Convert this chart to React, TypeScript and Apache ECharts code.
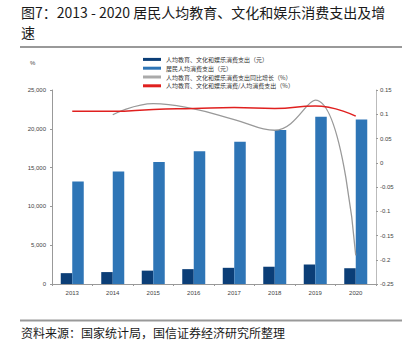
import React, { useEffect, useRef } from "react";
import * as echarts from "echarts";

const years = ["2013", "2014", "2015", "2016", "2017", "2018", "2019", "2020"];
const eduSpend = [1398, 1536, 1723, 1915, 2086, 2226, 2513, 2032];
const totalSpend = [13220, 14491, 15712, 17111, 18322, 19853, 21559, 21210];
const eduGrowth = [null, 0.099, 0.122, 0.111, 0.089, 0.067, 0.129, -0.191];
const eduShare = [0.106, 0.106, 0.11, 0.112, 0.114, 0.112, 0.117, 0.096];

const names = [
  "人均教育、文化和娱乐消费支出（元）",
  "居民人均消费支出（元）",
  "人均教育、文化和娱乐消费支出同比增长（%）",
  "人均教育、文化和娱乐消费/人均消费支出（%）",
];

const titleText = "图7：2013 - 2020 居民人均教育、文化和娱乐消费支出及增\n速";
const sourceText = "资料来源：国家统计局，国信证券经济研究所整理";

const FONT = "'Noto Sans CJK SC', 'Noto Sans', sans-serif";
const AXFONT = "'Liberation Sans', Arial, sans-serif";

export default function App() {
  const ref = useRef<HTMLDivElement>(null);
  useEffect(() => {
    if (!ref.current) return;
    document.body.style.margin = "0";
    const chart = echarts.init(ref.current, undefined, { renderer: "svg" });
    const fmtR = (v: number) => {
      const r = Math.round(v * 100) / 100;
      return String(r);
    };
    chart.setOption({
      animation: false,
      textStyle: { fontFamily: FONT },
      grid: { left: 52, right: 36, top: 90, bottom: 64 },
      legend: {
        orient: "vertical",
        left: 138,
        top: 50,
        itemWidth: 18,
        itemHeight: 3,
        itemGap: 0,
        textStyle: { fontSize: 6, color: "#333", fontFamily: FONT, lineHeight: 8.8 },
        data: [
          { name: names[0], icon: "rect" },
          { name: names[1], icon: "rect" },
          { name: names[2], icon: "rect", itemStyle: { color: "#aaaaaa" } },
          { name: names[3], icon: "rect", itemStyle: { color: "#e0201f" } },
        ],
      },
      xAxis: {
        type: "category",
        data: years,
        boundaryGap: true,
        axisLine: { lineStyle: { color: "#999", width: 1 } },
        axisTick: { show: true, length: 2, lineStyle: { color: "#999" } },
        axisLabel: { fontSize: 6, color: "#444", margin: 6, fontFamily: AXFONT },
      },
      yAxis: [
        {
          type: "value",
          min: 0,
          max: 25000,
          interval: 5000,
          splitLine: { show: false },
          axisLine: { show: true, lineStyle: { color: "#999" } },
          axisTick: { show: true, length: 2, lineStyle: { color: "#999" } },
          axisLabel: {
            fontSize: 6,
            color: "#444",
            margin: 6,
            fontFamily: AXFONT,
            formatter: (v: number) => v.toLocaleString("en-US"),
          },
        },
        {
          type: "value",
          min: -0.25,
          max: 0.15,
          interval: 0.05,
          position: "right",
          splitLine: { show: false },
          axisLine: { show: true, lineStyle: { color: "#bbb" } },
          axisTick: { show: true, length: 2, lineStyle: { color: "#999" } },
          axisLabel: { fontSize: 6, color: "#444", margin: 4, fontFamily: AXFONT, formatter: fmtR },
        },
      ],
      series: [
        {
          name: names[0],
          type: "bar",
          data: eduSpend,
          barWidth: 11.5,
          barGap: "0%",
          itemStyle: { color: "#0b3e77" },
        },
        {
          name: names[1],
          type: "bar",
          data: totalSpend,
          barWidth: 11.5,
          barGap: "0%",
          itemStyle: { color: "#2e75b6" },
        },
        {
          name: names[2],
          type: "line",
          yAxisIndex: 1,
          data: eduGrowth,
          smooth: 0.45,
          symbol: "none",
          lineStyle: { color: "#999999", width: 1.3 },
          itemStyle: { color: "#999999" },
        },
        {
          name: names[3],
          type: "line",
          yAxisIndex: 1,
          data: eduShare,
          smooth: 0.5,
          symbol: "none",
          lineStyle: { color: "#e0201f", width: 1.5 },
          itemStyle: { color: "#e0201f" },
        },
      ],
      graphic: [
        {
          type: "text",
          left: 21,
          top: 2,
          style: { text: titleText, fontSize: 14, lineHeight: 20, fill: "#1a1a1a", fontFamily: FONT },
        },
        {
          type: "line",
          shape: { x1: 20, y1: 47, x2: 402, y2: 47 },
          style: { stroke: "#999", lineWidth: 2 },
        },
        {
          type: "text",
          left: 30,
          top: 60,
          style: { text: "%", fontSize: 6, fill: "#444", fontFamily: AXFONT },
        },
        {
          type: "line",
          shape: { x1: 20, y1: 320.5, x2: 402, y2: 320.5 },
          style: { stroke: "#999", lineWidth: 2 },
        },
        {
          type: "text",
          left: 21,
          top: 326,
          style: { text: sourceText, fontSize: 12, fill: "#1a1a1a", fontFamily: FONT },
        },
      ],
    });
    return () => chart.dispose();
  }, []);
  return <div ref={ref} style={{ width: 412, height: 348 }} />;
}
